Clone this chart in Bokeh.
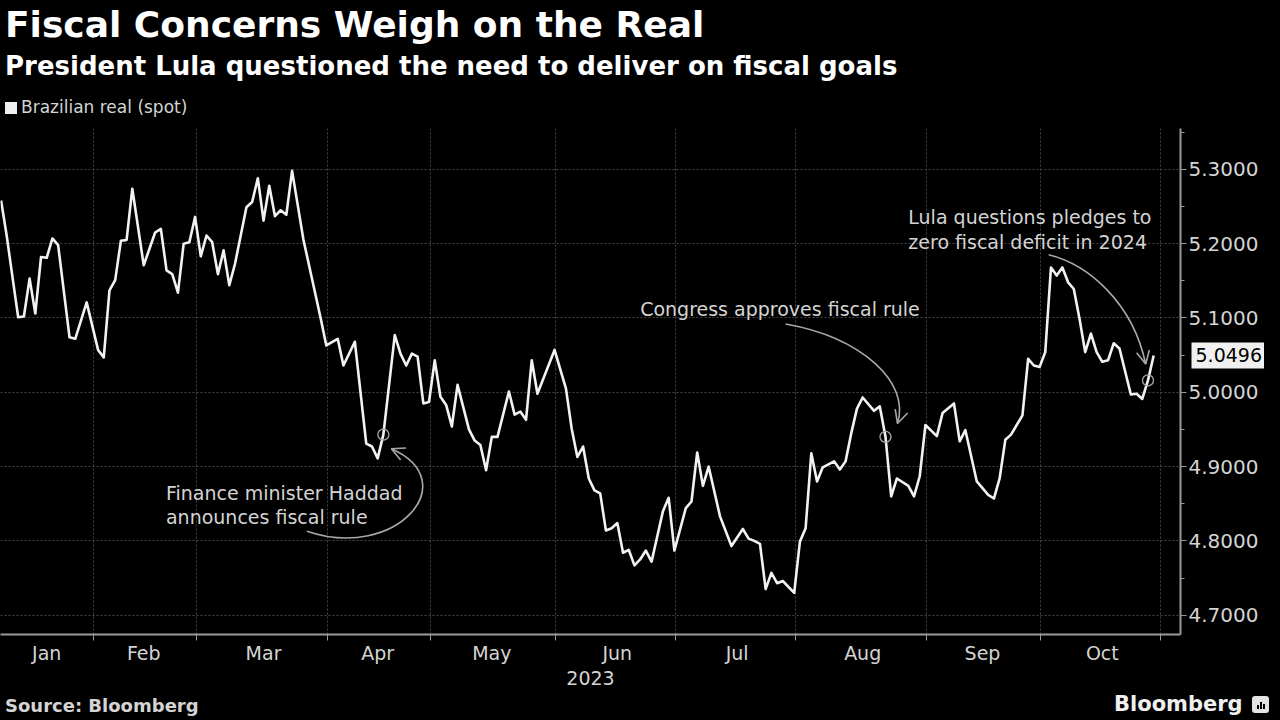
from bokeh.plotting import figure
from bokeh.layouts import column
from bokeh.models import (Range1d, FixedTicker, PrintfTickFormatter, Label, Arrow, OpenHead,
                          LinearAxis, Div, GlobalInlineStyleSheet)
from bokeh.embed import file_html
from bokeh.resources import INLINE

# ---- data (trading-day index from 2 Jan 2023, USD/BRL spot) ----
day = [5, 6, 7, 8, 9, 10, 11, 12, 13, 14, 15, 17, 18, 20, 22, 23, 24, 25, 26, 27,
       28, 30, 32, 33, 34, 35, 36, 37, 38, 39, 40, 41, 42, 43, 44, 45, 46, 48, 49, 50,
       51, 52, 53, 54, 55, 56, 58, 61, 62, 64, 65, 67, 69, 70, 71, 72, 74, 75, 76, 77,
       78, 79, 80, 81, 82, 83, 84, 85, 86, 87, 88, 89, 90, 91, 92, 94, 95, 96, 97, 98,
       99, 102, 104, 105, 106, 107, 108, 109, 110, 111, 112, 113, 114, 115, 116, 117, 118, 119, 121, 122,
       123, 125, 126, 127, 128, 129, 131, 133, 135, 136, 137, 138, 139, 140, 141, 142, 144, 145, 146, 147,
       148, 149, 151, 152, 153, 154, 155, 156, 158, 159, 160, 161, 162, 164, 165, 166, 167, 169, 170, 172,
       173, 174, 176, 178, 179, 180, 181, 182, 184, 185, 186, 187, 188, 189, 190, 191, 192, 193, 194, 195,
       196, 197, 198, 199, 200, 201, 203, 204, 205, 206, 207]
usdbrl = [5.258, 5.210, 5.155, 5.101, 5.102, 5.153, 5.106, 5.182, 5.181, 5.207, 5.198, 5.074, 5.072, 5.121, 5.057, 5.047, 5.137, 5.151, 5.204, 5.205,
          5.274, 5.171, 5.215, 5.220, 5.164, 5.159, 5.134, 5.200, 5.202, 5.236, 5.183, 5.211, 5.202, 5.159, 5.191, 5.144, 5.173, 5.249, 5.256, 5.288,
          5.231, 5.278, 5.237, 5.245, 5.239, 5.298, 5.205, 5.100, 5.063, 5.072, 5.036, 5.068, 4.931, 4.927, 4.911, 4.943, 5.077, 5.052, 5.036, 5.052,
          5.048, 4.985, 4.987, 5.043, 4.994, 4.983, 4.954, 5.010, 4.980, 4.950, 4.935, 4.929, 4.895, 4.940, 4.940, 5.001, 4.970, 4.974, 4.963, 5.043,
          4.998, 5.057, 5.005, 4.951, 4.913, 4.927, 4.884, 4.868, 4.864, 4.814, 4.817, 4.824, 4.784, 4.788, 4.767, 4.775, 4.787, 4.772, 4.840, 4.858,
          4.787, 4.844, 4.853, 4.919, 4.874, 4.900, 4.833, 4.793, 4.816, 4.803, 4.800, 4.796, 4.735, 4.757, 4.743, 4.746, 4.730, 4.799, 4.817, 4.918,
          4.880, 4.899, 4.907, 4.896, 4.907, 4.945, 4.978, 4.993, 4.975, 4.981, 4.940, 4.860, 4.884, 4.874, 4.860, 4.887, 4.956, 4.941, 4.972, 4.985,
          4.934, 4.949, 4.880, 4.862, 4.857, 4.884, 4.936, 4.943, 4.969, 5.045, 5.036, 5.034, 5.054, 5.168, 5.157, 5.168, 5.148, 5.139, 5.099, 5.054,
          5.079, 5.054, 5.041, 5.043, 5.066, 5.059, 4.997, 4.998, 4.991, 5.016, 5.0496]
months = ["Jan", "Feb", "Mar", "Apr", "May", "Jun", "Jul", "Aug", "Sep", "Oct"]
month_start = [22, 40, 63, 81, 103, 124, 145, 168, 188, 209]   # first trading day of Feb..Nov
y_ticks = [4.7, 4.8, 4.9, 5.0, 5.1, 5.2, 5.3]
y_minor = [4.65, 4.75, 4.85, 4.95, 5.05, 5.15, 5.25, 5.35]
event_days = [72, 160, 206]
year_label = "2023"
title = "Fiscal Concerns Weigh on the Real"
subtitle = "President Lula questioned the need to deliver on fiscal goals"
series_name = "Brazilian real (spot)"
source = "Source: Bloomberg"

# ---- styling ----
X0, X1 = 4.9, 211.7
Y0, Y1 = 4.674, 5.355
FONT = "DejaVu Sans"
TXT = "#d4d4d4"
GRID = "#474747"
AX = "#9a9a9a"
W = 1264

p = figure(width=W, height=572, x_range=Range1d(X0, X1), y_range=Range1d(Y0, Y1),
           y_axis_location="right", output_backend="svg", toolbar_location=None,
           min_border_left=0, min_border_top=4, min_border_bottom=62, min_border_right=84,
           background_fill_color="black", border_fill_color="black")
p.outline_line_color = None
p.outline_line_alpha = 0

bounds = [s - 0.8 for s in month_start]
edges = [X0] + bounds
centers = [round((edges[k] + edges[k + 1]) / 2) for k in range(len(months))]

# x axis
xa = p.xaxis[0]
xa.ticker = FixedTicker(ticks=centers, minor_ticks=bounds)
xa.major_label_overrides = {c: m for c, m in zip(centers, months)}
xa.major_tick_line_color = None
xa.major_tick_out = 0
xa.major_tick_in = 0
xa.minor_tick_line_color = AX
xa.minor_tick_out = 6
xa.minor_tick_in = 0
xa.axis_line_color = AX
xa.axis_line_width = 2
xa.major_label_text_font = FONT
xa.major_label_text_font_size = "19px"
xa.major_label_text_color = TXT
xa.major_label_standoff = 1
xa.axis_label = year_label
xa.axis_label_text_font = FONT
xa.axis_label_text_font_size = "19px"
xa.axis_label_text_font_style = "normal"
xa.axis_label_text_color = TXT
xa.axis_label_standoff = 4

# y axis
ya = p.yaxis[0]
ya.ticker = FixedTicker(ticks=y_ticks, minor_ticks=y_minor)
ya.formatter = PrintfTickFormatter(format="%.4f")
ya.axis_line_color = AX
ya.axis_line_width = 2
ya.major_tick_line_color = AX
ya.major_tick_out = 6
ya.major_tick_in = 0
ya.minor_tick_line_color = AX
ya.minor_tick_out = 4
ya.minor_tick_in = 0
ya.major_label_text_font = FONT
ya.major_label_text_font_size = "20px"
ya.major_label_text_color = TXT
ya.major_label_standoff = 2

# last-value tag: an outer right axis whose single tick is drawn as a wide light bar
tag = LinearAxis(ticker=FixedTicker(ticks=[usdbrl[-1]], minor_ticks=[]),
                 formatter=PrintfTickFormatter(format="%.4f"),
                 axis_line_color=None, minor_tick_line_color=None,
                 major_tick_in=70, major_tick_out=10, major_tick_line_color="#f0f0f0",
                 major_tick_line_width=26, major_tick_line_cap="butt",
                 major_label_standoff=-76, major_label_text_color="black",
                 major_label_text_font=FONT, major_label_text_font_size="19px")
p.add_layout(tag, "right")

# grids
p.xgrid.ticker = FixedTicker(ticks=bounds)
for g in (p.xgrid[0], p.ygrid[0]):
    g.grid_line_color = GRID
    g.grid_line_dash = "2 2"
    g.grid_line_width = 1

# the series
p.line(day, usdbrl, line_color="#f2f2f2", line_width=2.6, line_join="round")

# event circles
ev_vals = [usdbrl[day.index(d)] for d in event_days]
p.scatter(event_days, ev_vals, marker="circle", size=11, fill_color=None,
          line_color="#a8a8a8", line_width=1.3)

# annotation curves (in day / value coordinates)
ANN = "#a8a8a8"
p.bezier(x0=[58.6, 142.5, 188.6], y0=[4.813, 5.092, 5.185],
         x1=[73.4, 162.1, 205.6], y1=[4.924, 4.958, 5.038],
         cx0=[74.2, 155.7, 195.5], cy0=[4.772, 5.074, 5.172],
         cx1=[86.4, 164.4, 203.3], cy1=[4.880, 5.014, 5.121],
         line_color=ANN, line_width=1.6)
for (xs, ys, xe, ye) in [(86.4, 4.880, 73.4, 4.924), (164.4, 5.014, 162.1, 4.958),
                         (203.3, 5.121, 205.6, 5.038)]:
    p.add_layout(Arrow(end=OpenHead(size=13, line_color=ANN, line_width=1.6),
                       x_start=xs, y_start=ys, x_end=xe, y_end=ye, line_alpha=0))

def note(text, x, y):
    p.add_layout(Label(x=x, y=y, text=text, text_font=FONT, text_font_size="19px",
                       text_color=TXT, text_baseline="middle", text_align="left"))

note("Finance minister Haddad", 33.9, 4.865)
note("announces fiscal rule", 33.9, 4.832)
note("Congress approves fiscal rule", 117.0, 5.112)
note("Lula questions pledges to", 164.0, 5.236)
note("zero fiscal deficit in 2024", 164.0, 5.202)

# ---- header and footer ----
base = "position:absolute;white-space:nowrap;font-family:'DejaVu Sans';line-height:1;"
header_html = (
    f"<div style=\"position:relative;width:{W}px;height:114px;background:#000;\">"
    f"<div style=\"{base}left:0;top:2px;font-size:36px;font-weight:bold;color:#fff;\">{title}</div>"
    f"<div style=\"{base}left:0;top:48px;font-size:26px;font-weight:bold;color:#fff;\">{subtitle}</div>"
    f"<div style=\"position:absolute;left:0;top:97px;width:12px;height:12px;background:#f0f0f0;\"></div>"
    f"<div style=\"{base}left:16px;top:94px;font-size:17px;color:{TXT};\">{series_name}</div>"
    "</div>")
bars = "".join(
    f"<div style=\"position:absolute;left:{l}px;bottom:4px;width:2px;height:{h}px;background:#000;\"></div>"
    for l, h in [(5, 4), (8, 7), (11, 5)])
footer_html = (
    f"<div style=\"position:relative;width:{W}px;height:20px;background:#000;\">"
    f"<div style=\"{base}left:0;top:-4px;font-size:18px;font-weight:bold;color:{TXT};\">{source}</div>"
    f"<div style=\"{base}left:1109px;top:-7px;font-size:21px;font-weight:bold;color:#f0f0f0;\">Bloomberg</div>"
    f"<div style=\"position:absolute;left:1247px;top:-5px;width:17px;height:17px;background:#e4e4e4;border-radius:3px;\">{bars}</div>"
    "</div>")

page_css = GlobalInlineStyleSheet(css="body { background: #000; }")
header = Div(text=header_html, width=W, height=114, styles={"background-color": "black"},
             stylesheets=[page_css])
footer = Div(text=footer_html, width=W, height=20, styles={"background-color": "black"})

layout = column(header, p, footer, spacing=0, styles={"background-color": "black"})

open("out.html", "w").write(file_html(layout, INLINE))
